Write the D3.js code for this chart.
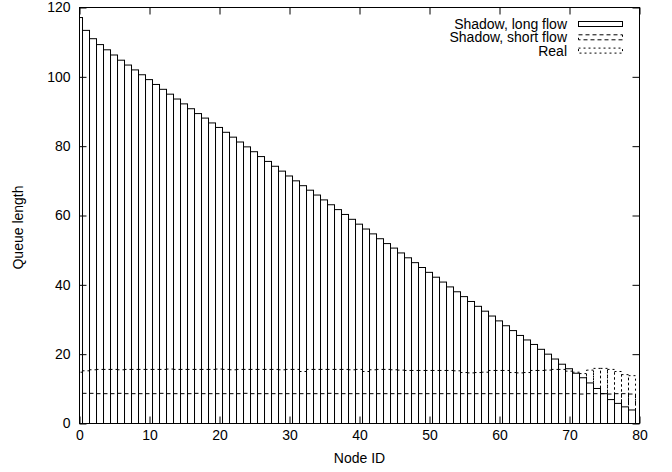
<!DOCTYPE html>
<html><head><meta charset="utf-8">
<script src="https://cdn.jsdelivr.net/npm/d3@7"></script>
<style>
body{margin:0;background:#fff;}
svg{display:block;}
text{font-family:"Liberation Sans",Arial,sans-serif;font-size:14px;fill:#000;}
</style></head>
<body>
<svg id="c" width="672" height="472"></svg>
<script>
const nodes = d3.range(0, 80);
const longFlow = [117.1,113.4,111.0,109.3,107.8,106.3,104.8,103.4,102.0,100.6,
 99.2,97.8,96.4,95.0,93.6,92.2,90.8,89.4,88.1,86.7,
 85.4,84.0,82.6,81.2,79.8,78.4,77.0,75.6,74.2,72.8,
 71.4,70.0,68.6,67.3,65.9,64.5,63.1,61.7,60.3,58.9,
 57.5,56.1,54.7,53.3,51.9,50.6,49.2,47.8,46.4,45.0,
 43.6,42.2,40.8,39.4,38.0,36.6,35.2,33.8,32.4,31.0,
 29.6,28.2,26.8,25.4,24.1,22.8,21.4,20.0,18.6,17.1,
 15.8,14.5,13.2,11.7,10.1,8.6,6.9,5.8,4.8,3.9];
const shortFlow = [8.8,8.7,8.7,8.6,8.6,8.6,8.7,8.6,8.6,8.6,
 8.6,8.6,8.7,8.6,8.6,8.6,8.6,8.7,8.6,8.6,
 8.6,8.6,8.6,8.6,8.7,8.6,8.6,8.6,8.6,8.6,
 8.6,8.6,8.6,8.6,8.6,8.6,8.7,8.6,8.6,8.6,
 8.6,8.6,8.6,8.6,8.6,8.6,8.6,8.6,8.6,8.6,
 8.6,8.6,8.6,8.6,8.6,8.6,8.6,8.6,8.6,8.6,
 8.6,8.6,8.6,8.6,8.6,8.6,8.6,8.6,8.6,8.6,
 8.6,8.6,8.5,8.6,8.6,8.6,8.5,8.6,8.6,8.5];
const realQ = [14.8,15.2,15.5,15.6,15.6,15.6,15.5,15.6,15.6,15.6,
 15.6,15.6,15.6,15.7,15.6,15.6,15.6,15.6,15.6,15.6,
 15.7,15.6,15.5,15.6,15.6,15.6,15.6,15.6,15.6,15.5,
 15.6,15.6,15.0,15.6,15.6,15.6,15.6,15.6,15.6,15.5,
 15.6,15.0,15.5,15.6,15.6,15.5,15.4,15.3,15.3,15.3,
 15.3,15.3,15.3,15.3,15.2,14.7,14.6,14.7,14.8,15.3,
 15.3,15.3,14.7,14.6,14.7,15.3,15.3,15.4,15.6,15.6,
 15.1,14.8,14.4,15.4,15.9,15.9,15.6,15.0,14.1,13.8];
const xTicks = [0,10,20,30,40,50,60,70,80];
const yTicks = [0,20,40,60,80,100,120];
const seriesNames = ["Shadow, long flow","Shadow, short flow","Real"];
const seriesValues = [longFlow, shortFlow, realQ];
const dashes = [null, "4,3", "2,3"];

const L = 79.5, R = 639.5, T = 7.5, B = 423.5;
const svg = d3.select("#c");
const x = d3.scaleLinear().domain([0,80]).range([L,R]);
const y = d3.scaleLinear().domain([0,120]).range([B,T]);

svg.append("clipPath").attr("id","pc").append("rect")
  .attr("x",L).attr("y",T).attr("width",R-L).attr("height",B-T);

const plot = svg.append("g").attr("clip-path","url(#pc)");
seriesValues.forEach((vals,k)=>{
  plot.append("g").selectAll("rect").data(nodes).join("rect")
    .attr("x", i=>x(i-0.57))
    .attr("width", i=>x(i+0.43)-x(i-0.57))
    .attr("y", i=>y(vals[i]))
    .attr("height", i=>y(0)-y(vals[i]))
    .attr("fill","none").attr("stroke","#000").attr("stroke-width",1)
    .attr("stroke-dasharray", dashes[k]);
});

const tk = 7;
const ax = svg.append("g").attr("transform",`translate(0,${B})`)
  .call(d3.axisBottom(x).tickValues(xTicks).tickSize(-tk).tickPadding(7));
const axT = svg.append("g").attr("transform",`translate(0,${T})`)
  .call(d3.axisTop(x).tickValues(xTicks).tickSize(-tk).tickFormat(""));
const ay = svg.append("g").attr("transform",`translate(${L},0)`)
  .call(d3.axisLeft(y).tickValues(yTicks).tickSize(-tk).tickPadding(9));
const ayR = svg.append("g").attr("transform",`translate(${R},0)`)
  .call(d3.axisRight(y).tickValues(yTicks).tickSize(-tk).tickFormat(""));
[ax,axT,ay,ayR].forEach(g=>{
  g.select(".domain").remove();
  g.selectAll("line").attr("stroke","#000");
  g.selectAll("text").attr("font-family",null).attr("font-size",null).style("fill","#000");
});

svg.append("rect").attr("x",L).attr("y",T).attr("width",R-L).attr("height",B-T)
  .attr("fill","none").attr("stroke","#000");

svg.append("text").attr("x",(L+R)/2).attr("y",463).attr("text-anchor","middle").text("Node ID");
svg.append("text").attr("transform",`translate(23,${(T+B)/2 + 12}) rotate(-90)`)
  .attr("text-anchor","middle").text("Queue length");

const lg = svg.append("g");
seriesNames.forEach((n,k)=>{
  const cy = 24 + k*13.3;
  lg.append("text").attr("x",567).attr("y",cy).attr("dy","0.35em")
    .attr("text-anchor","end").text(n);
  lg.append("rect").attr("x",578.5).attr("y",cy-2.5).attr("width",44).attr("height",5)
    .attr("fill","none").attr("stroke","#000").attr("stroke-dasharray",dashes[k]);
});
</script>
</body></html>
